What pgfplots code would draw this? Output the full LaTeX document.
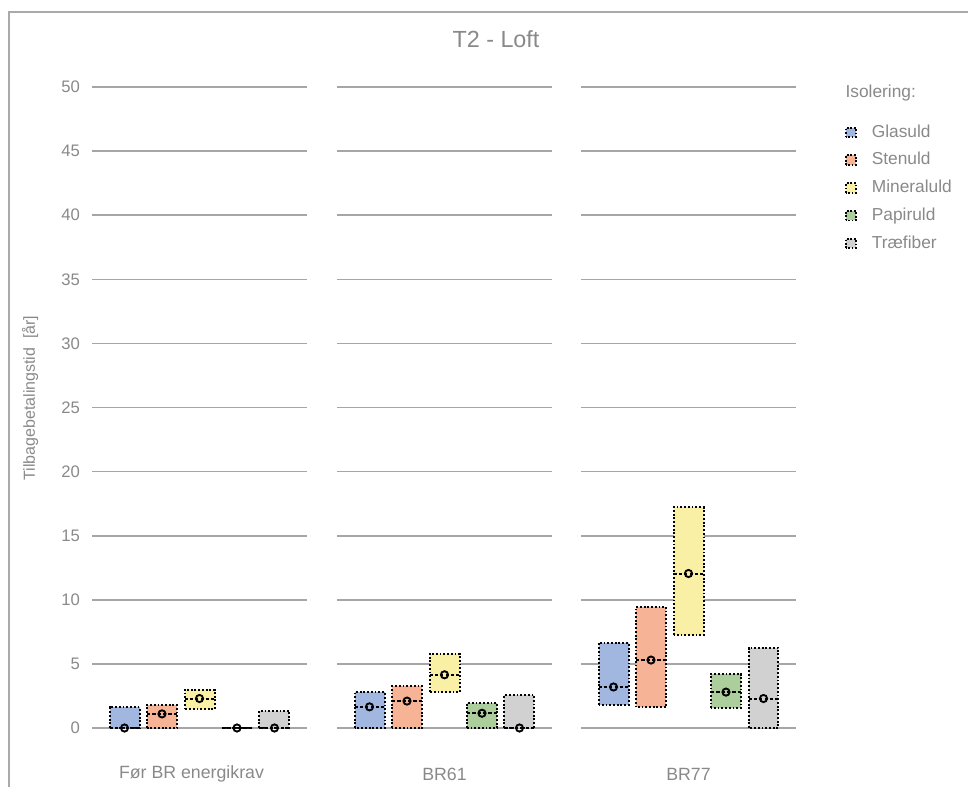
\documentclass[border=0pt]{standalone}
\usepackage{fontspec}
\setmainfont{Liberation Sans}
\usepackage{pgfplots}
\pgfplotsset{compat=1.18}
\usepgfplotslibrary{statistics}

\definecolor{cBlue}{RGB}{161,183,224}
\definecolor{cOrange}{RGB}{246,179,149}
\definecolor{cYellow}{RGB}{249,240,165}
\definecolor{cGreen}{RGB}{172,206,156}
\definecolor{cGray}{RGB}{209,209,209}
\definecolor{txt}{RGB}{137,137,137}
\definecolor{gridc}{RGB}{166,166,166}
\definecolor{framec}{RGB}{170,170,170}

\pgfplotsset{
  panel/.style={scale only axis, width=161.25pt, height=480.75pt,
    anchor=south west, xmin=-2.867, xmax=2.867, ymin=0, ymax=50,
    ytick={0,5,...,50}, xtick=\empty, axis line style={draw=none},
    major tick length=0pt, ymajorgrids, grid style={gridc, line width=1.2pt},
    clip=false, tick label style={font=\fontsize{12.5}{15}\selectfont, text=txt},
    /pgf/number format/assume math mode=true,
    yticklabel style={xshift=-5.5pt},
    every axis x label/.style={at={(axis description cs:0.5,0)}, anchor=center,
      yshift=-34.5pt, font=\fontsize{13.3}{15}\selectfont, text=txt},
    boxplot/draw direction=y,
    boxplot/every whisker/.style={draw=none},
    boxplot/every median/.style={dash pattern=on 2.4pt off 1.6pt}},
  rng/.style={draw=black, line width=1.5pt, dash pattern=on 1.4pt off 1.4pt, forget plot},
  med/.style={only marks, mark=o, mark size=2.7pt, line width=1.4pt,
    mark options={draw=black, fill=white, solid}, forget plot},
  lg/.style={fill=#1, draw=black, line width=1.4pt, dash pattern=on 1.3pt off 1.3pt}
}
% #1 colour, #2 position, #3 low, #4 median, #5 high
\newcommand{\rng}[5]{\addplot[rng, fill=#1, boxplot prepared={draw position=#2,
  lower whisker=#3, lower quartile=#3, median=#4, upper quartile=#5, upper whisker=#5, box extend=0.8}] coordinates {};}

\begin{document}
\begin{tikzpicture}
\useasboundingbox (0pt,0pt) rectangle (726pt,-590.25pt);
\draw[framec, line width=1pt] (6.75pt,-590.25pt) -- (6.75pt,-9pt) -- (726pt,-9pt);
\node[text=txt, font=\fontsize{17.5}{20}\selectfont] at (372pt,-29.6pt) {T2 - Loft};
\node[text=txt, rotate=90, font=\fontsize{12}{14}\selectfont] at (22.5pt,-298.5pt) {Tilbagebetalingstid\ \ [år]};
\node[text=txt, anchor=west, inner sep=0pt, font=\fontsize{13}{15}\selectfont] at (634pt,-69.75pt) {Isolering:};

\begin{axis}[panel, at={(69pt,-546pt)}, xlabel={Før BR energikrav}, xlabel style={xshift=-6pt}]
\rng{cBlue}{-2}{0}{0}{1.6}
\rng{cOrange}{-1}{0}{1.1}{1.8}
\rng{cYellow}{0}{1.45}{2.3}{3.0}
\rng{cGreen}{1}{0}{0}{0}
\rng{cGray}{2}{0}{0}{1.35}
\addplot[med] coordinates {(-2,0) (-1,1.1) (0,2.3) (1,0) (2,0)};
\end{axis}

\begin{axis}[panel, at={(252.75pt,-546pt)}, yticklabels={}, xlabel={BR61}]
\rng{cBlue}{-2}{0}{1.65}{2.8}
\rng{cOrange}{-1}{0}{2.1}{3.25}
\rng{cYellow}{0}{2.8}{4.15}{5.8}
\rng{cGreen}{1}{0}{1.15}{1.95}
\rng{cGray}{2}{0}{0}{2.55}
\addplot[med] coordinates {(-2,1.65) (-1,2.1) (0,4.15) (1,1.15) (2,0)};
\end{axis}

\begin{axis}[panel, at={(435.75pt,-546pt)}, yticklabels={}, xlabel={BR77},
  legend style={at={(axis description cs:1.228,0.942)}, anchor=north west,
    draw=none, fill=none, inner sep=0pt, font=\fontsize{13}{15}\selectfont, text=txt,
    row sep=8.8pt, nodes={inner sep=0pt, text height=9.5pt, text depth=2.5pt}},
  legend cell align=left,
  legend image code/.code={\draw[#1] (0pt,-3.6pt) rectangle (7.2pt,3.6pt); \path (18.5pt,0pt);}]
\rng{cBlue}{-2}{1.8}{3.2}{6.65}
\rng{cOrange}{-1}{1.6}{5.3}{9.45}
\rng{cYellow}{0}{7.25}{12.05}{17.2}
\rng{cGreen}{1}{1.55}{2.8}{4.2}
\rng{cGray}{2}{0}{2.3}{6.25}
\addplot[med] coordinates {(-2,3.2) (-1,5.3) (0,12.05) (1,2.8) (2,2.3)};
\addlegendimage{lg=cBlue}
\addlegendentry{Glasuld}
\addlegendimage{lg=cOrange}
\addlegendentry{Stenuld}
\addlegendimage{lg=cYellow}
\addlegendentry{Mineraluld}
\addlegendimage{lg=cGreen}
\addlegendentry{Papiruld}
\addlegendimage{lg=cGray}
\addlegendentry{Træfiber}
\end{axis}
\end{tikzpicture}
\end{document}
